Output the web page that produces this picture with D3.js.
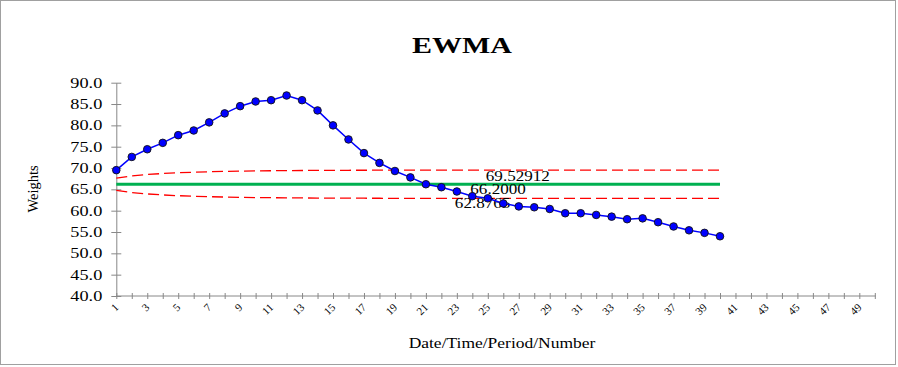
<!DOCTYPE html>
<html><head><meta charset="utf-8">
<script src="https://cdn.jsdelivr.net/npm/d3@7"></script>
<style>body{margin:0;background:#fff}svg{display:block}</style>
</head><body><svg id="c" width="898" height="367"></svg>
<script>
// ---- data ----
const periods = [1,2,3,4,5,6,7,8,9,10,11,12,13,14,15,16,17,18,19,20,21,22,23,24,25,26,27,28,29,30,31,32,33,34,35,36,37,38,39,40];
const ewma = [69.5,72.6,74.4,75.9,77.7,78.8,80.7,82.8,84.5,85.6,85.9,87.0,85.9,83.5,80.0,76.7,73.5,71.2,69.3,67.8,66.2,65.5,64.5,63.4,62.9,61.7,61.0,60.8,60.4,59.4,59.4,59.0,58.6,58.0,58.2,57.3,56.3,55.4,54.8,54.0];
const ucl = [67.65,68.15,68.48,68.71,68.89,69.02,69.12,69.21,69.27,69.32,69.36,69.39,69.42,69.44,69.46,69.47,69.48,69.49,69.50,69.50,69.51,69.51,69.52,69.52,69.52,69.52,69.52,69.52,69.53,69.53,69.53,69.53,69.53,69.53,69.53,69.53,69.53,69.53,69.53,69.53];
const lcl = [64.75,64.25,63.92,63.69,63.51,63.38,63.28,63.20,63.13,63.08,63.04,63.01,62.98,62.96,62.94,62.93,62.92,62.91,62.90,62.90,62.89,62.89,62.88,62.88,62.88,62.88,62.88,62.88,62.87,62.87,62.87,62.87,62.87,62.87,62.87,62.87,62.87,62.87,62.87,62.87];
const centerValue = 66.2;
const limitLabels = ["69.52912","66.2000","62.8765"];
const xTicks = [1,2,3,4,5,6,7,8,9,10,11,12,13,14,15,16,17,18,19,20,21,22,23,24,25,26,27,28,29,30,31,32,33,34,35,36,37,38,39,40,41,42,43,44,45,46,47,48,49,50];
const xTickLabels = [1,3,5,7,9,11,13,15,17,19,21,23,25,27,29,31,33,35,37,39,41,43,45,47,49];
const yTicks = [40,45,50,55,60,65,70,75,80,85,90];
const title = "EWMA", xTitle = "Date/Time/Period/Number", yTitle = "Weights";

// ---- layout ----
const svg = d3.select("#c");
const FONT = "Liberation Serif";
const SX = 1.22;
const x = d3.scaleLinear().domain([1,50]).range([116.3,874.8]);
const y = d3.scaleLinear().domain([40,90]).range([296,82.7]);

svg.append("rect").attr("x",0.5).attr("y",0.5).attr("width",895).attr("height",364)
  .attr("fill","#fff").attr("stroke","#a0a0a0").attr("stroke-width",1);

function sText(parent,str,tx,ty,size,anchor,weight,sx){
  return parent.append("text").attr("transform",`translate(${tx},${ty}) scale(${sx||SX},1)`)
    .attr("text-anchor",anchor).style("font-family",FONT).style("font-size",size+"px")
    .style("font-weight",weight||"normal").attr("fill","#000").text(str);
}

sText(svg,title,462,53,24,"middle","bold",1.25);
sText(svg,xTitle,502,348,14,"middle","normal",1.25);
svg.append("text").attr("transform","translate(38,189) rotate(-90)").attr("text-anchor","middle")
  .style("font-family",FONT).style("font-size","14.5px").text(yTitle);

// axes
const gy = svg.append("g").attr("transform",`translate(${x(1)},0)`)
  .call(d3.axisLeft(y).tickValues(yTicks).tickSize(5).tickSizeOuter(0).tickFormat(""));
gy.select(".domain").attr("stroke","#888");
gy.selectAll(".tick line").attr("stroke","#888").attr("x1",5);
const gyl = svg.append("g");
yTicks.forEach(v=> sText(gyl,d3.format(".1f")(v),x(1)-14,y(v)+5,14.5,"end","normal",1.26));

const gx = svg.append("g").attr("transform",`translate(0,${y(40)})`)
  .call(d3.axisBottom(x).tickValues(xTicks).tickSize(3).tickSizeOuter(0).tickFormat(""));
gx.select(".domain").attr("stroke","#888").attr("d",`M${x(1)},0H${x(50)+1}`);
gx.selectAll(".tick line").attr("stroke","#888").attr("y1",-3);
const gxl = svg.append("g");
xTickLabels.forEach(v=>{
  gxl.append("g").attr("transform",`translate(${x(v)+3},${y(40)+12})`)
    .append("text").attr("transform","rotate(-45)")
    .attr("text-anchor","end").style("font-family",FONT).style("font-size","11px").attr("fill","#000").text(v);
});

// limit lines
const line = d3.line().x((d,i)=>x(periods[i])).y(d=>y(d));
svg.append("path").attr("d",line(ucl)).attr("fill","none").attr("stroke","#ff0000").attr("stroke-width",1.3).attr("stroke-dasharray","11,5");
svg.append("path").attr("d",line(lcl)).attr("fill","none").attr("stroke","#ff0000").attr("stroke-width",1.3).attr("stroke-dasharray","11,5");
svg.append("path").attr("d",line(periods.map(()=>centerValue))).attr("fill","none").attr("stroke","#00b050").attr("stroke-width",3);

// limit labels
sText(svg,limitLabels[0],x(25)-2,y(ucl[ucl.length-1])+10.5,14,"start");
sText(svg,limitLabels[1],x(24)-2,y(centerValue)+10,14,"start");
sText(svg,limitLabels[2],x(23)-2,y(lcl[lcl.length-1])+10,14,"start");

// series
svg.append("path").attr("d",line(ewma)).attr("fill","none").attr("stroke","#0000ff").attr("stroke-width",1.5);
svg.append("g").selectAll("circle").data(ewma).join("circle")
  .attr("cx",(d,i)=>x(periods[i])).attr("cy",d=>y(d)).attr("r",3.8)
  .attr("fill","#0000ff").attr("stroke","#111").attr("stroke-width",0.9);
</script></body></html>
